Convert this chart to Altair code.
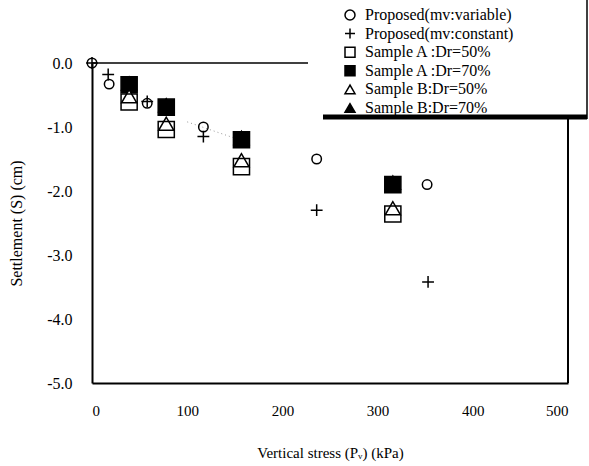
import altair as alt
import pandas as pd

# ---- data ----
series_names = [
    "Proposed(mv:variable)",
    "Proposed(mv:constant)",
    "Sample A :Dr=50%",
    "Sample A :Dr=70%",
    "Sample B:Dr=50%",
    "Sample B:Dr=70%",
]
var_stress = [0, 18, 58, 117, 236, 352]
var_settle = [0.0, -0.33, -0.63, -1.0, -1.5, -1.9]
const_stress = [0, 17, 58, 117, 236, 353]
const_settle = [0.0, -0.18, -0.60, -1.15, -2.3, -3.42]
sample_stress = [39, 78, 157, 316]
a50_settle = [-0.61, -1.04, -1.62, -2.36]
a70_settle = [-0.34, -0.69, -1.20, -1.90]
b50_settle = [-0.52, -0.95, -1.52, -2.27]
b70_settle = [-0.32, -0.66, -1.17, -1.87]
trend_stress = [100, 155]
trend_settle = [-0.92, -1.20]
x_ticks = [0, 100, 200, 300, 400, 500]
y_ticks = [0.0, -1.0, -2.0, -3.0, -4.0, -5.0]

rows = []
def add(name, xs, ys):
    for x, y in zip(xs, ys):
        rows.append({"series": name, "stress": x, "settle": y})

add(series_names[0], var_stress, var_settle)
add(series_names[1], const_stress, const_settle)
add(series_names[2], sample_stress, a50_settle)
add(series_names[3], sample_stress, a70_settle)
add(series_names[4], sample_stress, b50_settle)
add(series_names[5], sample_stress, b70_settle)
df = pd.DataFrame(rows)
trend = pd.DataFrame({"stress": trend_stress, "settle": trend_settle})

FONT = "Liberation Serif"
plus_path = "M-1,0H1M0,-1V1"
shapes = ["circle", plus_path, "square", "square", "triangle-up", "triangle-up"]
fills = ["transparent", "transparent", "transparent", "black", "white", "black"]
strokes = ["black"] * 6
sizes = {0: 90, 1: 140, 2: 260, 3: 260, 4: 230, 5: 230}
draw_order = [0, 1, 5, 3, 4, 2]  # later on top

xscale = alt.Scale(domain=[0, 500], nice=False)
yscale = alt.Scale(domain=[-5, 0], nice=False)

x_enc = alt.X("stress:Q", scale=xscale,
              axis=alt.Axis(title="Vertical stress (Pᵥ) (kPa)", values=x_ticks, format="d",
                            ticks=False, grid=False, domainColor="black", domainWidth=2,
                            labelPadding=20, titlePadding=27, labelFontSize=15, titleFontSize=15))
y_enc = alt.Y("settle:Q", scale=yscale,
              axis=alt.Axis(title="Settlement (S) (cm)", values=y_ticks,
                            labelExpr="datum.value == 0 ? '0.0' : '-' + format(-datum.value, '.1f')",
                            ticks=False, grid=False, domainColor="black", domainWidth=2,
                            labelPadding=20, titlePadding=22, labelFontSize=16, titleFontSize=16))
leg = alt.Legend(title=None, orient="none", legendX=250, legendY=-56)

base = alt.Chart(df)
point_layers = []
for i in draw_order:
    point_layers.append(
        base.transform_filter(alt.datum.series == series_names[i])
        .mark_point(strokeWidth=1.5, opacity=1, size=sizes[i])
        .encode(
            x=x_enc, y=y_enc,
            shape=alt.Shape("series:N", scale=alt.Scale(domain=series_names, range=shapes), legend=leg),
            fill=alt.Fill("series:N", scale=alt.Scale(domain=series_names, range=fills), legend=leg),
            stroke=alt.Stroke("series:N", scale=alt.Scale(domain=series_names, range=strokes), legend=leg),
        )
    )

trend_line = alt.Chart(trend).mark_line(color="#999999", strokeDash=[1, 3], strokeWidth=1).encode(
    x=alt.X("stress:Q", scale=xscale), y=alt.Y("settle:Q", scale=yscale))

frame = pd.DataFrame({"k": [0]})
top_rule = alt.Chart(frame).mark_rule(color="black", strokeWidth=1.5).encode(
    x=alt.value(0), x2=alt.value(216), y=alt.value(0))
right_rule = alt.Chart(frame).mark_rule(color="black", strokeWidth=2).encode(
    x=alt.value(476), y=alt.value(54), y2=alt.value(320))
legend_shadow = alt.Chart(frame).mark_rule(color="black", strokeWidth=5).encode(
    x=alt.value(231), x2=alt.value(495), y=alt.value(54))
legend_edge = alt.Chart(frame).mark_rule(color="black", strokeWidth=1.5).encode(
    x=alt.value(495), y=alt.value(-63), y2=alt.value(56))

chart = alt.layer(trend_line, top_rule, right_rule, *point_layers, legend_shadow, legend_edge).properties(
    width=476, height=320,
    autosize=alt.AutoSizeParams(type="none"),
    padding={"left": 92, "top": 63, "right": 21, "bottom": 83},
    background="white",
).configure_view(stroke=None).configure_axis(
    labelFont=FONT, titleFont=FONT,
    labelColor="black", titleColor="black", titleFontWeight="normal",
).configure_legend(
    labelFont=FONT, labelFontSize=16, labelColor="black",
    symbolSize=100, symbolStrokeWidth=1.5, symbolOpacity=1,
    rowPadding=2.6, labelOffset=7, padding=0,
)

chart.save("out.html", embed_options={"renderer": "svg", "actions": False})
